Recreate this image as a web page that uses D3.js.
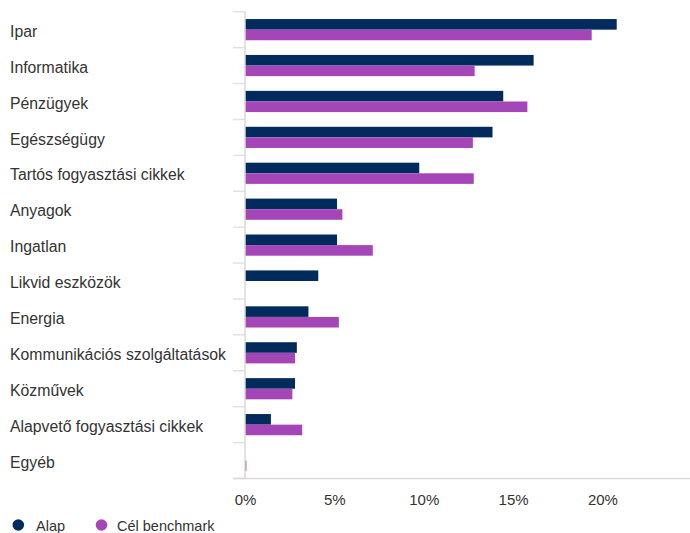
<!DOCTYPE html>
<html><head><meta charset="utf-8">
<script src="https://cdn.jsdelivr.net/npm/d3@7/dist/d3.min.js"></script>
<style>body{margin:0;background:#fff;font-family:"Liberation Sans",Arial,sans-serif;}</style>
</head><body><svg id="c" width="690" height="533"></svg>
<script>
const categories = ["Ipar","Informatika","Pénzügyek","Egészségügy","Tartós fogyasztási cikkek","Anyagok","Ingatlan","Likvid eszközök","Energia","Kommunikációs szolgáltatások","Közművek","Alapvető fogyasztási cikkek","Egyéb"];
const seriesNames = ["Alap","Cél benchmark"];
const alap = [20.8,16.15,14.45,13.85,9.75,5.15,5.15,4.1,3.55,2.9,2.8,1.45,0];
const cel = [19.4,12.85,15.8,12.75,12.8,5.45,7.15,0,5.25,2.8,2.65,3.2,0.08];
const xTicks = [0,5,10,15,20];
const colors = ["#002b5c","#a546b8"];

(function(){
const svg = d3.select("#c");
const pLeft = 245, pRight = 690, pTop = 11.7, pBottom = 478.5;
const x = d3.scaleLinear().domain([0,24.9]).range([pLeft,pRight]);
const y0 = d3.scaleBand().domain(categories).range([pTop,pBottom]).paddingInner(0.41).paddingOuter(0.205);
const y1 = d3.scaleBand().domain(seriesNames).range([0,y0.bandwidth()]);

const sepPos = categories.map((c,i)=> pTop + i*y0.step()).concat([pBottom]);
svg.append("g").selectAll("line").data(sepPos).join("line")
  .attr("x1",233).attr("x2",pLeft).attr("y1",d=>d).attr("y2",d=>d)
  .attr("stroke","#dfe2ee").attr("stroke-width",1.5);

const data = categories.map((c,i)=>({cat:c, vals:[{s:seriesNames[0],v:alap[i]},{s:seriesNames[1],v:cel[i]}]}));
const g = svg.append("g").selectAll("g").data(data).join("g")
  .attr("transform",d=>`translate(0,${y0(d.cat)})`);
g.selectAll("rect").data(d=>d.vals).join("rect")
  .attr("x",x(0)).attr("y",d=>y1(d.s)).attr("height",y1.bandwidth())
  .attr("width",d=>Math.max(0,x(d.v)-x(0)))
  .attr("fill",(d,i)=>colors[i]);

svg.append("line").attr("x1",pLeft).attr("x2",pLeft).attr("y1",pTop).attr("y2",pBottom)
  .attr("stroke","#d9d9d9").attr("stroke-width",1.5);
svg.append("line").attr("x1",233).attr("x2",pRight).attr("y1",pBottom).attr("y2",pBottom)
  .attr("stroke","#d9d9d9").attr("stroke-width",1.5);

svg.append("g").selectAll("text").data(categories).join("text")
  .attr("x",10).attr("y",d=>y0(d)+y0.bandwidth()/2+7.2)
  .attr("font-size",15.8).attr("fill","#333").text(d=>d);

const xAxis = d3.axisBottom(x).tickValues(xTicks).tickFormat(d=>d+"%").tickSize(0).tickPadding(0);
const ax = svg.append("g").attr("transform",`translate(0,${pBottom})`).call(xAxis);
ax.select(".domain").remove();
ax.selectAll("text").attr("font-size",15).attr("fill","#333").attr("font-family","Liberation Sans, Arial, sans-serif").attr("y",26.2).attr("dy",0);

const lg = svg.append("g");
const cx = [18.3,101.5], tx = [36,117];
seriesNames.forEach((s,i)=>{
  lg.append("circle").attr("cx",cx[i]).attr("cy",525).attr("r",5.8).attr("fill",colors[i]);
  lg.append("text").attr("x",tx[i]).attr("y",530.7).attr("font-size",14.5).attr("fill","#333").text(s);
});
})();
</script></body></html>
